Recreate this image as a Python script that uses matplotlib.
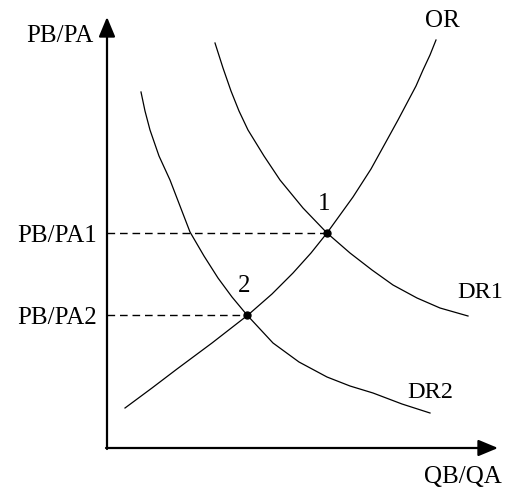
import matplotlib
matplotlib.use("Agg")
import matplotlib.pyplot as plt

# curve points (x = QB/QA, y = PB/PA, arbitrary units)
or_x = [18, 45, 70, 105, 141, 165, 186, 204, 220, 246, 264, 280, 291, 300, 309, 316, 323, 329]
or_y = [40, 60, 79, 105, 133, 154, 175, 195, 215, 251, 279, 308, 328, 345, 362, 378, 393, 408]

dr1_x = [108, 116, 124, 132, 141, 157, 173, 196, 220, 243, 265, 286, 310, 333, 361]
dr1_y = [405, 380, 357, 337, 318, 292, 268, 240, 215, 195, 178, 163, 150, 140, 132]

dr2_x = [34, 38, 43, 52, 63, 73, 83, 97, 111, 125, 140, 166, 192, 220, 243, 266, 295, 323]
dr2_y = [356, 337, 318, 292, 268, 242, 216, 192, 170, 151, 133, 105, 86, 71, 62, 55, 44, 35]

# equilibria
eq_x = [220, 140]
eq_y = [215, 133]
eq_names = ["1", "2"]
price_labels = ["PB/PA1", "PB/PA2"]

plt.rcParams['font.family'] = ['Liberation Serif', 'DejaVu Serif']

fig = plt.figure(figsize=(5.05, 4.91), dpi=100)
ax = fig.add_axes([0, 0, 1, 1])
ax.set_xlim(-107, 398)
ax.set_ylim(-43, 448)
ax.axis('off')

# axes with arrows
arrow = dict(arrowstyle='-|>,head_length=0.6,head_width=0.25', lw=1.6,
             color='black', mutation_scale=20, shrinkA=0, shrinkB=0)
ax.annotate('', xy=(0, 431), xytext=(0, -1), arrowprops=arrow)
ax.annotate('', xy=(391, 0), xytext=(-1, 0), arrowprops=arrow)

# curves
for cx, cy in [(or_x, or_y), (dr1_x, dr1_y), (dr2_x, dr2_y)]:
    ax.plot(cx, cy, color='black', lw=0.9, solid_joinstyle='round')

# dashed guides + dots
for x, y, name, lab in zip(eq_x, eq_y, eq_names, price_labels):
    ax.plot([0, x], [y, y], color='black', lw=1.0, dashes=(5.5, 3.5))
    ax.plot(x, y, 'o', color='black', ms=5)
    ax.text(x - 3, y + 23, name, fontsize=18, ha='center', va='baseline')
    ax.text(-10, y - 9, lab, fontsize=18, ha='right', va='baseline')

ax.text(-14, 406, "PB/PA", fontsize=18, ha='right', va='baseline')
ax.text(356, -35, "QB/QA", fontsize=18, ha='center', va='baseline')
ax.text(335, 421, "OR", fontsize=18, ha='center', va='baseline')
ax.text(350, 150, "DR1", fontsize=17.5, ha='left', va='baseline')
ax.text(300, 50, "DR2", fontsize=17.5, ha='left', va='baseline')

fig.savefig("out.png", dpi=100)
